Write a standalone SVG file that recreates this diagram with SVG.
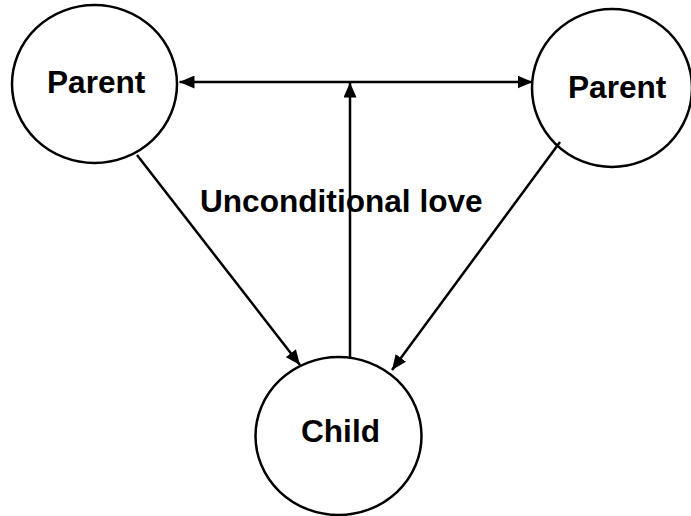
<svg xmlns="http://www.w3.org/2000/svg" width="691" height="516" viewBox="0 0 691 516">
<style>
.node{fill:none;stroke:#000;stroke-width:2.5}
.lbl{font-family:"Liberation Sans",Arial,sans-serif;font-weight:bold;font-size:31.6px;fill:#000}
.edge{stroke:#000;stroke-width:2.5;fill:none}
</style>
<defs>
<marker id="ah" viewBox="0 0 15 13" refX="15" refY="6.5" markerWidth="15" markerHeight="13" markerUnits="userSpaceOnUse" orient="auto-start-reverse">
<path d="M0,0 L15,6.5 L0,13 Z" fill="#000"/>
</marker>
</defs>
<rect width="691" height="516" fill="#fff"/>
<g id="parent-left">
<ellipse class="node" cx="94.5" cy="84" rx="82.5" ry="79"/>
<text class="lbl" x="47" y="93">Parent</text>
</g>
<g id="parent-right">
<ellipse class="node" cx="612" cy="88" rx="80" ry="79"/>
<text class="lbl" x="568" y="98">Parent</text>
</g>
<g id="child">
<ellipse class="node" cx="338.5" cy="436" rx="83" ry="79"/>
<text class="lbl" x="301" y="442">Child</text>
</g>
<text id="love-label" class="lbl" x="200" y="212">Unconditional love</text>
<g id="connectors">
<line class="edge" x1="179.5" y1="82" x2="532.5" y2="82" marker-start="url(#ah)" marker-end="url(#ah)"/>
<line class="edge" x1="350" y1="358" x2="350" y2="82.5" marker-end="url(#ah)"/>
<line class="edge" x1="137" y1="155" x2="300" y2="365" marker-end="url(#ah)"/>
<line class="edge" x1="560" y1="142" x2="392" y2="370" marker-end="url(#ah)"/>
</g>
</svg>
